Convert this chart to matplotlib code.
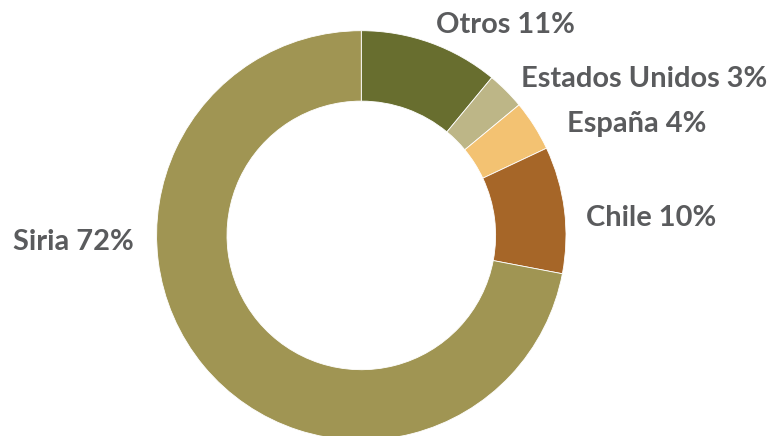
import matplotlib.pyplot as plt

# Data (clockwise from 12 o'clock)
labels = ['Otros', 'Estados Unidos', 'España', 'Chile', 'Siria']
shares = [11, 3, 4, 10, 72]
colors = ['#686e2f', '#bdb687', '#f3c272', '#a66628', '#a09553']

# label anchor (left x, baseline y) in pixels from the top-left
label_pos = [(436, 33), (521, 87), (567, 132), (586, 226), (13, 250)]

W, H = 775, 436
fig = plt.figure(figsize=(W / 100, H / 100), dpi=100)
ax = fig.add_axes([0, 0, 1, 1])

cx, cy = 361.3, H - 235.4
r_out, r_in = 204.7, 134.3
ax.pie(shares, colors=colors, startangle=90, counterclock=False,
       center=(cx, cy), radius=r_out,
       wedgeprops=dict(width=r_out - r_in, edgecolor='white', linewidth=0.6))

for lab, val, (x, y) in zip(labels, shares, label_pos):
    ax.text(x, H - y, f"{lab} {val}%", ha='left', va='baseline',
            fontsize=20.9, fontweight='bold', family='Lato', color='#5a5b5d')

ax.set_xlim(0, W)
ax.set_ylim(0, H)
ax.set_aspect('equal')
ax.axis('off')

fig.savefig('out.png', dpi=100)
